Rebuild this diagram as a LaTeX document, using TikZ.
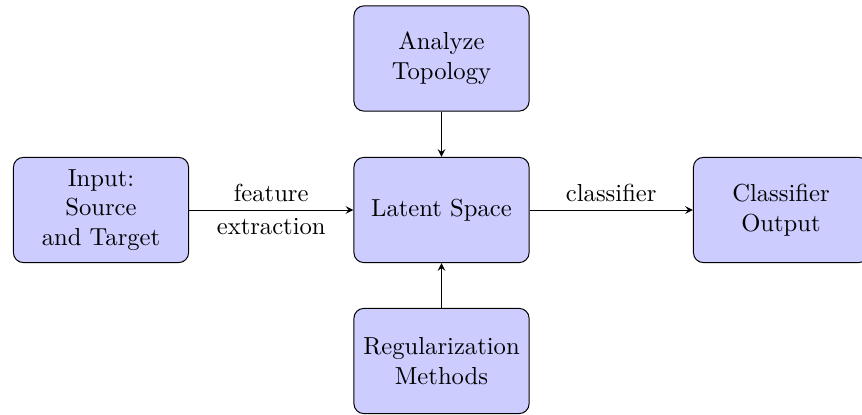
\documentclass[tikz,border=0pt]{standalone}
\usetikzlibrary{arrows}
\begin{document}
\begin{tikzpicture}[x=0.406pt,y=-0.406pt,
  box/.style={draw,fill=blue!20,rounded corners=4pt,minimum width=71.1pt,minimum height=42.7pt,align=center,line width=0.4pt},
  conn/.style={-stealth,line width=0.4pt}]
\useasboundingbox (0,0) rectangle (862,415);
\node[box] (in) at (101,210) {Input:\\Source\\and Target};
\node[box] (lat) at (441.5,210) {Latent Space};
\node[box] (out) at (781,210) {Classifier\\Output};
\node[box] (top) at (441.5,58.5) {Analyze\\Topology};
\node[box] (bot) at (441.5,361) {Regularization\\Methods};
\draw[conn] (in) -- node[above]{feature} node[below]{extraction} (lat);
\draw[conn] (lat) -- node[above]{classifier} (out);
\draw[conn] (top) -- (lat);
\draw[conn] (bot) -- (lat);
\end{tikzpicture}
\end{document}
